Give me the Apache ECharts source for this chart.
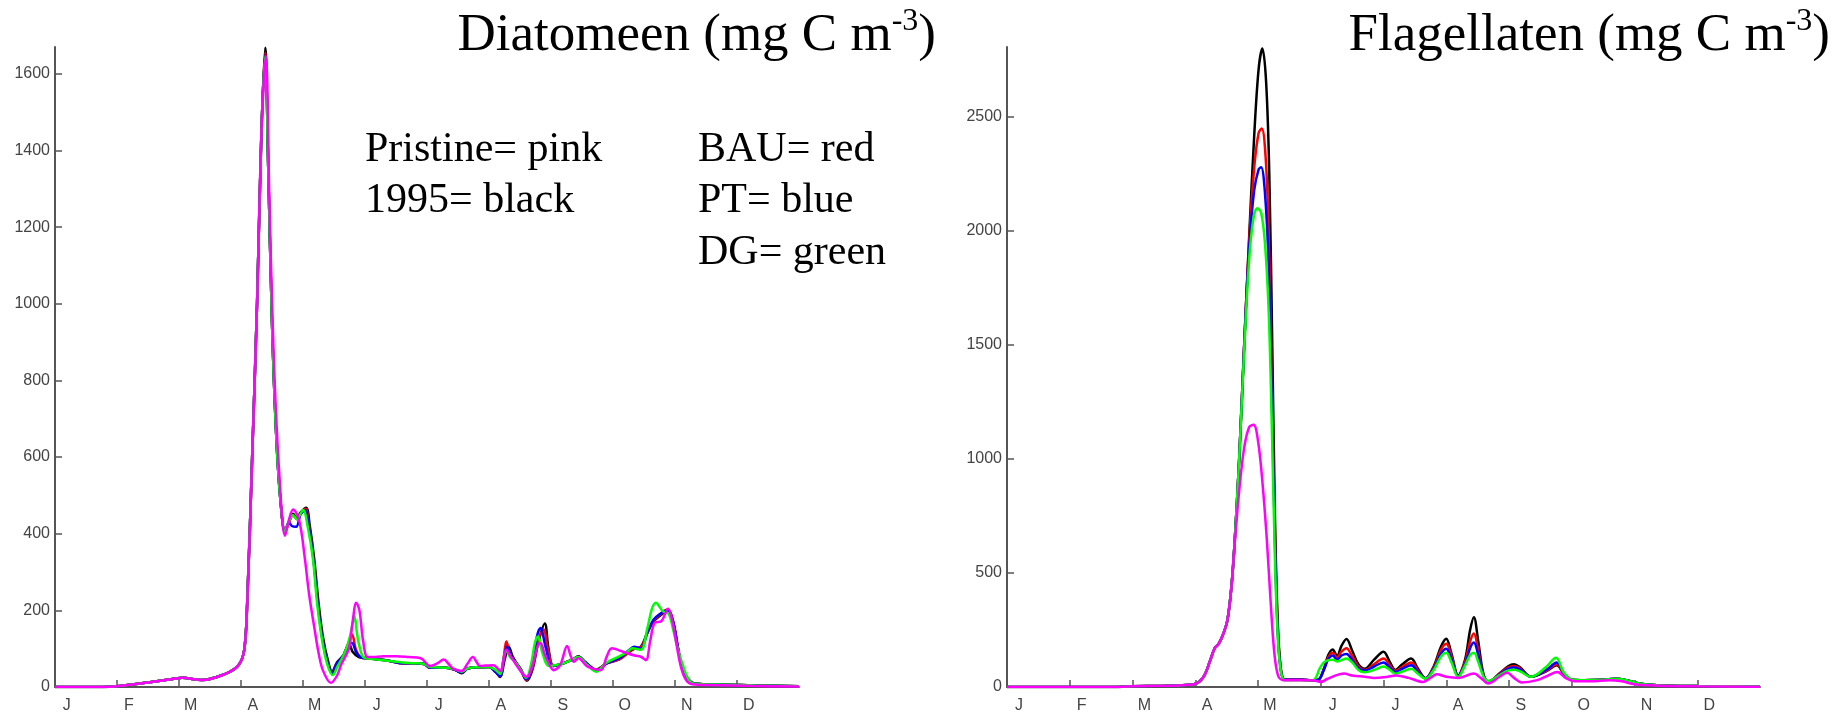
<!DOCTYPE html>
<html>
<head>
<meta charset="utf-8">
<script src="https://cdn.jsdelivr.net/npm/echarts@6/dist/echarts.min.js"></script>
<style>
html,body{margin:0;padding:0;background:#fff;}
#c{width:1835px;height:715px;}
</style>
</head>
<body>
<div id="c"></div>
<script>
// ---------- DATA ----------
const monthLetters = ['J','F','M','A','M','J','J','A','S','O','N','D'];
const monthTicks = [1,2,3,4,5,6,7,8,9,10,11];
const monthLabelPos = [0.19,1.19,2.19,3.19,4.19,5.19,6.19,7.19,8.19,9.19,10.19,11.19];
const diaTicks = [0,200,400,600,800,1000,1200,1400,1600];
const flaTicks = [0,500,1000,1500,2000,2500];

// Diatomeen, x = months since 1 Jan
const dia1995 = [[0,0],[0.78,0],[1.0,2],[1.5,12],[1.95,22],[2.05,24],[2.37,18],[2.73,33],[2.95,55],[3.05,95],[3.10,220],[3.18,600],[3.26,1006],[3.33,1450],
 [3.39,1668],[3.44,1350],[3.50,950],[3.57,650],[3.64,480],[3.71,405],[3.77,430],[3.84,452],[3.90,440],[3.96,455],[4.05,468],[4.11,420],[4.18,335],[4.25,220],[4.32,132],[4.40,70],[4.47,40],
 [4.55,65],[4.65,82],[4.70,100],[4.75,110],[4.80,92],[4.90,78],[5.04,75],[5.2,72],[5.4,68],[5.6,62],[5.8,62],[5.95,60],[6.05,50],[6.3,50],[6.45,45],[6.56,36],[6.65,48],[6.74,51],[7.0,52],[7.1,42],[7.18,26],
 [7.25,70],[7.32,105],[7.38,80],[7.43,66],[7.52,45],[7.61,16],[7.70,45],[7.80,120],[7.90,166],[7.96,100],[8.04,55],[8.2,62],[8.35,72],[8.44,80],[8.55,65],[8.73,46],[8.9,62],[9.1,72],[9.25,90],[9.35,100],[9.45,105],
 [9.55,140],[9.65,170],[9.75,185],[9.89,200],[9.97,170],[10.05,100],[10.12,50],[10.25,14],[10.4,8],[10.8,6],[11.3,4],[12,2]];
const diaBAU = [[0,0],[0.78,0],[1.0,2],[1.5,12],[1.95,22],[2.05,24],[2.37,18],[2.73,33],[2.95,55],[3.05,95],[3.10,220],[3.18,600],[3.26,1006],[3.33,1450],
 [3.39,1655],[3.44,1350],[3.50,950],[3.57,650],[3.64,480],[3.71,405],[3.77,428],[3.84,448],[3.90,438],[3.96,452],[4.04,465],[4.10,420],[4.17,335],[4.24,220],[4.31,130],[4.39,70],[4.47,38],
 [4.55,62],[4.65,82],[4.72,110],[4.79,137],[4.86,95],[4.95,76],[5.04,75],[5.2,72],[5.4,68],[5.6,62],[5.8,62],[5.95,60],[6.05,50],[6.3,50],[6.45,45],[6.56,38],[6.65,48],[6.74,51],[7.0,52],[7.1,40],[7.18,28],
 [7.24,80],[7.28,119],[7.34,85],[7.43,64],[7.52,42],[7.60,18],[7.70,50],[7.80,125],[7.88,150],[7.95,100],[8.04,55],[8.2,62],[8.35,72],[8.44,79],[8.55,65],[8.73,45],[8.9,62],[9.1,72],[9.25,90],[9.35,102],[9.45,104],
 [9.55,140],[9.65,172],[9.75,188],[9.88,202],[9.97,170],[10.05,100],[10.12,50],[10.25,14],[10.4,8],[10.8,6],[11.3,4],[12,2]];
const diaPT = [[0,0],[0.78,0],[1.0,2],[1.5,12],[1.95,22],[2.05,24],[2.37,18],[2.73,33],[2.95,55],[3.05,95],[3.10,220],[3.18,600],[3.26,1006],[3.33,1450],
 [3.39,1650],[3.44,1350],[3.50,950],[3.57,650],[3.64,480],[3.71,405],[3.77,430],[3.82,420],[3.89,418],[3.96,450],[4.03,462],[4.10,415],[4.17,330],[4.24,215],[4.31,128],[4.39,68],[4.47,36],
 [4.55,62],[4.65,82],[4.72,105],[4.79,115],[4.86,90],[4.95,76],[5.04,75],[5.2,72],[5.4,68],[5.6,62],[5.8,62],[5.95,60],[6.05,50],[6.3,50],[6.45,45],[6.56,38],[6.65,48],[6.74,51],[7.0,52],[7.1,40],[7.18,28],
 [7.24,75],[7.29,105],[7.35,82],[7.43,64],[7.52,42],[7.60,20],[7.70,55],[7.77,130],[7.83,154],[7.92,100],[8.02,55],[8.2,62],[8.35,72],[8.44,79],[8.55,65],[8.73,44],[8.9,62],[9.1,75],[9.25,95],[9.34,105],[9.45,100],
 [9.55,140],[9.65,175],[9.75,190],[9.88,200],[9.97,170],[10.05,100],[10.12,50],[10.25,14],[10.4,8],[10.8,6],[11.3,4],[12,2]];
const diaDG = [[0,0],[0.78,0],[1.0,2],[1.5,12],[1.95,22],[2.05,24],[2.37,18],[2.73,33],[2.95,55],[3.05,95],[3.10,220],[3.18,600],[3.26,1006],[3.33,1450],
 [3.39,1645],[3.44,1350],[3.50,950],[3.57,650],[3.64,480],[3.71,405],[3.77,432],[3.84,448],[3.90,438],[4.00,462],[4.08,415],[4.16,335],[4.23,215],[4.31,120],[4.39,60],[4.48,31],
 [4.56,55],[4.66,85],[4.74,120],[4.80,165],[4.83,185],[4.88,130],[4.96,80],[5.04,74],[5.2,72],[5.4,68],[5.6,64],[5.8,62],[5.95,60],[6.05,52],[6.3,50],[6.45,46],[6.56,40],[6.65,48],[6.74,51],[7.0,52],[7.1,45],[7.18,34],
 [7.23,70],[7.28,95],[7.34,78],[7.43,64],[7.52,42],[7.60,24],[7.68,60],[7.74,115],[7.79,132],[7.86,90],[7.97,55],[8.2,62],[8.35,72],[8.44,78],[8.58,58],[8.73,40],[8.88,62],[9.1,80],[9.22,90],[9.31,101],[9.45,97],
 [9.55,150],[9.63,205],[9.69,220],[9.80,198],[9.90,190],[9.97,150],[10.03,110],[10.10,70],[10.25,13],[10.4,8],[10.8,6],[11.3,4],[12,2]];
const diaPristine = [[0,0],[0.78,0],[1.0,2],[1.5,12],[1.95,22],[2.05,24],[2.37,18],[2.73,33],[2.95,55],[3.05,95],[3.10,220],[3.18,600],[3.26,1006],[3.33,1450],
 [3.40,1645],[3.46,1250],[3.53,850],[3.62,550],[3.71,395],[3.78,440],[3.84,463],[3.94,434],[4.03,335],[4.10,240],[4.18,158],[4.25,90],[4.32,44],[4.45,11],
 [4.55,30],[4.62,60],[4.74,100],[4.80,170],[4.86,220],[4.91,200],[4.97,120],[5.04,78],[5.12,78],[5.3,80],[5.5,80],[5.7,78],[5.9,75],[6.05,55],[6.17,62],[6.27,72],[6.35,60],[6.42,48],[6.56,42],[6.65,60],[6.74,78],[6.80,65],[6.85,55],[6.95,56],[7.07,57],[7.18,42],
 [7.28,97],[7.35,80],[7.43,60],[7.54,35],[7.61,27],[7.70,55],[7.78,105],[7.83,115],[7.90,85],[7.97,60],[8.04,44],[8.15,58],[8.26,107],[8.32,80],[8.37,66],[8.44,75],[8.59,53],[8.80,44],[8.90,80],[8.98,101],[9.16,92],[9.35,82],[9.45,79],[9.53,70],
 [9.60,120],[9.67,167],[9.78,172],[9.89,204],[9.96,170],[10.03,106],[10.10,50],[10.18,18],[10.28,7],[10.6,5],[11.2,3],[12,1]];

// Flagellaten
const fla1995 = [[0,0],[1.6,0],[2.0,3],[2.5,5],[2.8,8],[2.98,12],[3.13,44],[3.24,118],[3.31,170],[3.37,188],[3.44,228],[3.51,290],[3.57,420],[3.62,600],
 [3.70,1000],[3.78,1500],[3.86,1980],[3.94,2420],[4.01,2710],[4.07,2800],[4.13,2650],[4.18,2250],[4.23,1450],[4.27,750],[4.31,320],[4.36,90],[4.43,32],[4.7,32],[4.85,30],[4.96,32],
 [5.05,80],[5.12,140],[5.19,165],[5.26,135],[5.33,180],[5.41,210],[5.50,160],[5.60,100],[5.70,80],[5.85,120],[6.0,155],[6.10,110],[6.19,75],[6.30,100],[6.44,125],[6.55,80],[6.67,38],[6.80,90],[6.92,180],[7.0,212],[7.08,150],[7.19,50],
 [7.30,120],[7.38,250],[7.44,306],[7.51,200],[7.59,60],[7.67,22],[7.85,60],[7.98,90],[8.08,100],[8.18,85],[8.35,45],[8.60,70],[8.76,95],[8.88,55],[9.0,32],[9.2,30],[9.5,32],[9.7,36],[9.9,28],[10.1,14],[10.4,7],[11,4],[12,2]];
const flaBAU = [[0,0],[1.6,0],[2.0,3],[2.5,5],[2.8,8],[2.98,12],[3.13,44],[3.24,118],[3.31,170],[3.37,188],[3.44,228],[3.51,290],[3.57,420],[3.62,600],
 [3.70,1000],[3.78,1500],[3.86,1960],[3.94,2280],[4.01,2430],[4.06,2450],[4.12,2330],[4.17,2000],[4.22,1350],[4.27,680],[4.31,290],[4.36,85],[4.43,32],[4.7,32],[4.85,30],[4.96,32],
 [5.05,78],[5.12,130],[5.19,150],[5.26,128],[5.33,155],[5.41,170],[5.50,135],[5.60,90],[5.70,75],[5.85,100],[6.0,125],[6.10,95],[6.19,70],[6.30,88],[6.44,108],[6.55,72],[6.67,38],[6.80,85],[6.92,165],[7.0,190],[7.08,140],[7.19,50],
 [7.30,110],[7.38,200],[7.44,235],[7.51,160],[7.59,55],[7.67,24],[7.85,58],[7.98,85],[8.08,92],[8.18,80],[8.35,45],[8.60,72],[8.76,100],[8.88,55],[9.0,32],[9.2,30],[9.5,32],[9.7,36],[9.9,28],[10.1,14],[10.4,7],[11,4],[12,2]];
const flaPT = [[0,0],[1.6,0],[2.0,3],[2.5,5],[2.8,8],[2.98,12],[3.13,44],[3.24,118],[3.31,170],[3.37,188],[3.44,228],[3.51,290],[3.57,420],[3.62,600],
 [3.70,1000],[3.78,1500],[3.86,1930],[3.94,2180],[4.01,2270],[4.05,2280],[4.11,2170],[4.17,1850],[4.22,1280],[4.27,640],[4.31,270],[4.36,80],[4.43,32],[4.7,32],[4.85,30],[4.96,32],
 [5.05,75],[5.12,122],[5.19,138],[5.26,120],[5.33,138],[5.41,145],[5.50,118],[5.60,82],[5.70,72],[5.85,90],[6.0,108],[6.10,85],[6.19,66],[6.30,80],[6.44,95],[6.55,66],[6.67,38],[6.80,80],[6.92,148],[7.0,168],[7.08,125],[7.19,48],
 [7.30,100],[7.38,170],[7.44,195],[7.51,140],[7.59,52],[7.67,25],[7.85,55],[7.98,80],[8.08,86],[8.18,76],[8.35,45],[8.60,76],[8.76,108],[8.88,58],[9.0,32],[9.2,30],[9.5,32],[9.7,36],[9.9,28],[10.1,14],[10.4,7],[11,4],[12,2]];
const flaDG = [[0,0],[1.6,0],[2.0,3],[2.5,5],[2.8,8],[2.98,12],[3.13,44],[3.24,118],[3.31,170],[3.37,188],[3.44,228],[3.51,290],[3.57,420],[3.62,600],
 [3.70,1000],[3.78,1480],[3.86,1880],[3.93,2060],[3.99,2100],[4.05,2080],[4.11,1950],[4.17,1650],[4.22,1150],[4.27,560],[4.31,250],[4.36,75],[4.43,30],[4.7,30],[4.85,28],[4.92,40],
 [4.98,80],[5.05,108],[5.12,118],[5.19,120],[5.26,112],[5.33,118],[5.41,125],[5.50,108],[5.60,75],[5.70,65],[5.85,75],[6.0,90],[6.10,75],[6.19,58],[6.30,68],[6.44,80],[6.55,58],[6.67,36],[6.80,75],[6.92,135],[7.0,150],[7.08,110],[7.19,45],
 [7.30,95],[7.38,140],[7.44,150],[7.51,110],[7.59,48],[7.67,26],[7.85,52],[7.98,72],[8.08,76],[8.18,68],[8.35,45],[8.58,85],[8.75,128],[8.87,65],[9.0,33],[9.2,30],[9.5,32],[9.7,36],[9.9,28],[10.1,14],[10.4,7],[11,4],[12,2]];
const flaPristine = [[0,0],[1.6,0],[2.0,3],[2.5,5],[2.8,8],[2.98,12],[3.13,44],[3.24,118],[3.31,170],[3.37,188],[3.44,228],[3.51,290],[3.57,420],[3.62,600],
 [3.70,860],[3.78,1050],[3.86,1140],[3.93,1150],[4.00,1080],[4.07,900],[4.14,650],[4.20,380],[4.26,150],[4.32,50],[4.40,30],[4.7,30],[4.9,28],[5.0,22],[5.1,35],[5.25,52],[5.37,59],[5.5,50],[5.7,45],[5.85,40],
 [6.04,44],[6.2,50],[6.4,40],[6.63,22],[6.75,40],[6.85,56],[7.0,45],[7.2,40],[7.44,59],[7.55,40],[7.67,15],[7.85,45],[7.97,62],[8.08,40],[8.2,20],[8.45,30],[8.62,50],[8.77,66],[8.9,40],[9.05,25],[9.3,25],[9.6,30],[9.8,25],[10.0,12],[10.4,6],[11,3],[12,1]];

const seriesNames = ['1995','BAU','PT','DG','Pristine'];
const seriesColors = ['#000000','#ff0000','#0000ff','#00ff00','#ff00ff'];
const diaData = [dia1995, diaBAU, diaPT, diaDG, diaPristine];
const flaData = [fla1995, flaBAU, flaPT, flaDG, flaPristine];

// ---------- CHART ----------
const chart = echarts.init(document.getElementById('c'), null, {renderer:'canvas'});
const axisColor = '#555';
function xAxisFor(gi){
  return {
    type:'value', gridIndex:gi, min:0, max:12, interval:1,
    axisLine:{show:true, onZero:false, lineStyle:{color:axisColor, width:2}},
    axisTick:{show:true, inside:true, length:7, customValues:monthTicks, lineStyle:{color:axisColor, width:1.5}},
    axisLabel:{show:true, customValues:monthLabelPos, margin:11, color:'#444', fontFamily:'Liberation Sans', fontSize:16,
      formatter:function(v){ return monthLetters[Math.floor(v+1e-6)] || ''; }},
    splitLine:{show:false}
  };
}
function yAxisFor(gi, max, ticks){
  return {
    type:'value', gridIndex:gi, min:0, max:max,
    axisLine:{show:true, lineStyle:{color:axisColor, width:2}},
    axisTick:{show:true, inside:true, length:7, customValues:ticks, lineStyle:{color:axisColor, width:1.5}},
    axisLabel:{show:true, customValues:ticks, margin:5, color:'#444', fontFamily:'Liberation Sans', fontSize:16,
      formatter:function(v){ return String(Math.round(v)); }},
    splitLine:{show:false}
  };
}
const series = [];
diaData.forEach((d,i)=>{
  series.push({name:'Dia '+seriesNames[i], type:'line', xAxisIndex:0, yAxisIndex:0, data:d, smooth:0.35,
    showSymbol:false, lineStyle:{color:seriesColors[i], width:2.5}, itemStyle:{color:seriesColors[i]}, z:2+i});
});
flaData.forEach((d,i)=>{
  series.push({name:'Fla '+seriesNames[i], type:'line', xAxisIndex:1, yAxisIndex:1, data:d, smooth:0.35,
    showSymbol:false, lineStyle:{color:seriesColors[i], width:2.5}, itemStyle:{color:seriesColors[i]}, z:2+i});
});

const serif = 'Liberation Serif';
const titleRich = {a:{fontFamily:serif, fontSize:53, lineHeight:60, color:'#000'},
                   s:{fontFamily:serif, fontSize:32, lineHeight:32, verticalAlign:'top', color:'#000'}};
function legendText(x,y,t){
  return {type:'text', x:x, y:y, style:{text:t, fontFamily:serif, fontSize:42, fill:'#000', align:'left', verticalAlign:'middle'}};
}

chart.setOption({
  animation:false,
  backgroundColor:'#fff',
  grid:[
    {left:55, top:47, width:744, height:640, containLabel:false},
    {left:1007, top:47, width:753, height:640, containLabel:false}
  ],
  xAxis:[xAxisFor(0), xAxisFor(1)],
  yAxis:[yAxisFor(0,1670,diaTicks), yAxisFor(1,2807,flaTicks)],
  series:series,
  graphic:[
    {type:'text', x:936, y:36, style:{text:'{a|Diatomeen (mg C m}{s|-3}{a|)}', rich:titleRich, align:'right', verticalAlign:'middle'}},
    {type:'text', x:1830, y:36, style:{text:'{a|Flagellaten (mg C m}{s|-3}{a|)}', rich:titleRich, align:'right', verticalAlign:'middle'}},
    legendText(365,150,'Pristine= pink'),
    legendText(365,201,'1995= black'),
    legendText(698,150,'BAU= red'),
    legendText(698,201,'PT= blue'),
    legendText(698,253,'DG= green')
  ]
});
</script>
</body>
</html>
